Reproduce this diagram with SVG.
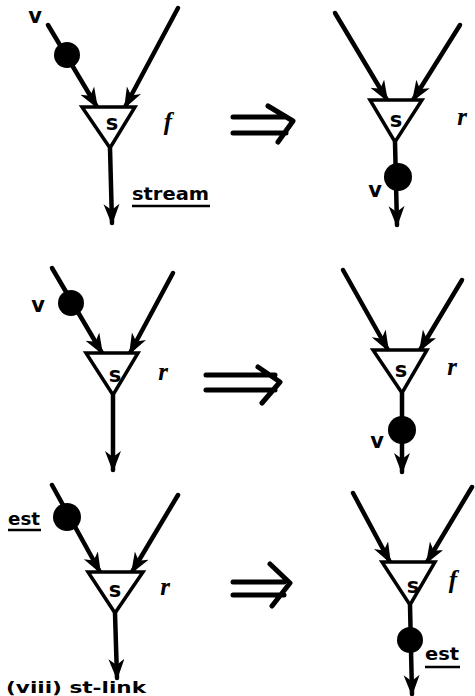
<svg xmlns="http://www.w3.org/2000/svg" width="475" height="696" viewBox="0 0 475 696">
<style>
.ln{stroke:#000;stroke-width:4.5;fill:none;stroke-linecap:round}
.tri{stroke:#000;stroke-width:3.5;fill:#fff;stroke-linejoin:miter}
.tok{fill:#000}
.s{font-family:"DejaVu Sans",sans-serif;font-weight:bold;font-size:21px;text-anchor:middle}
.v{font-family:"DejaVu Sans",sans-serif;font-weight:bold;font-size:21px;text-anchor:middle}
.it{font-family:"Liberation Serif",serif;font-style:italic;font-weight:bold;font-size:25px;text-anchor:middle}
.lb{font-family:"DejaVu Sans",sans-serif;font-weight:bold;font-size:18px}
.cap{font-family:"DejaVu Sans",sans-serif;font-weight:bold;font-size:15px}
.ul{stroke:#000;stroke-width:2.5}
.imp{stroke:#000;stroke-width:5;fill:none;stroke-linecap:round;stroke-linejoin:round}
</style>
<defs>
<marker id="ah" markerUnits="userSpaceOnUse" markerWidth="22" markerHeight="18" refX="19" refY="8" orient="auto">
<path d="M0,0 L21,8 L0,16 L6,8 z" fill="#000"/>
</marker>
</defs>
<g id="connectors">
<line class="ln" x1="48" y1="25" x2="97" y2="107" marker-end="url(#ah)"/>
<line class="ln" x1="178" y1="8" x2="125" y2="107" marker-end="url(#ah)"/>
<line class="ln" x1="110" y1="148" x2="112" y2="223" marker-end="url(#ah)"/>
<line class="ln" x1="335" y1="13" x2="387" y2="100" marker-end="url(#ah)"/>
<line class="ln" x1="460" y1="25" x2="413" y2="100" marker-end="url(#ah)"/>
<line class="ln" x1="395" y1="142" x2="397" y2="225" marker-end="url(#ah)"/>
<line class="ln" x1="52" y1="268" x2="102" y2="353" marker-end="url(#ah)"/>
<line class="ln" x1="173" y1="273" x2="130" y2="353" marker-end="url(#ah)"/>
<line class="ln" x1="113" y1="395" x2="113" y2="470" marker-end="url(#ah)"/>
<line class="ln" x1="343" y1="270" x2="388" y2="350" marker-end="url(#ah)"/>
<line class="ln" x1="462" y1="280" x2="420" y2="350" marker-end="url(#ah)"/>
<line class="ln" x1="402" y1="393" x2="402" y2="472" marker-end="url(#ah)"/>
<line class="ln" x1="52" y1="485" x2="100" y2="572" marker-end="url(#ah)"/>
<line class="ln" x1="178" y1="495" x2="132" y2="572" marker-end="url(#ah)"/>
<line class="ln" x1="115" y1="613" x2="117" y2="678" marker-end="url(#ah)"/>
<line class="ln" x1="353" y1="493" x2="390" y2="562" marker-end="url(#ah)"/>
<line class="ln" x1="472" y1="487" x2="427" y2="562" marker-end="url(#ah)"/>
<line class="ln" x1="410" y1="605" x2="412" y2="694" marker-end="url(#ah)"/>
</g>
<g id="p1-left">
<polygon class="tri" points="82,107 135,107 110,148"/>
<text class="s" x="112" y="130">s</text>
<circle class="tok" cx="67" cy="55" r="13"/>
<text class="v" x="35" y="23">v</text>
<text class="it" x="168" y="130">f</text>
<text class="lb" x="132" y="200" textLength="77" lengthAdjust="spacingAndGlyphs">stream</text>
<line class="ul" x1="132" y1="206" x2="210" y2="206"/>
</g>
<g id="impl-1">
<path class="imp" d="M233,117 H286 M233,133 H286 M268,106 L293,121 L278,142"/>
</g>
<g id="p1-right">
<polygon class="tri" points="370,100 422,100 395,142"/>
<text class="s" x="396" y="127">s</text>
<circle class="tok" cx="398" cy="177" r="14"/>
<text class="v" x="375" y="197">v</text>
<text class="it" x="462" y="125">r</text>
</g>
<g id="p2-left">
<polygon class="tri" points="86,353 138,353 113,395"/>
<text class="s" x="115" y="382">s</text>
<circle class="tok" cx="71" cy="303" r="13"/>
<text class="v" x="38" y="312">v</text>
<text class="it" x="163" y="380">r</text>
</g>
<g id="impl-2">
<path class="imp" d="M206,375 H275 M206,390 H275 M258,367 L280,382 L262,403"/>
</g>
<g id="p2-right">
<polygon class="tri" points="373,350 427,350 402,393"/>
<text class="s" x="401" y="377">s</text>
<circle class="tok" cx="402" cy="430" r="14"/>
<text class="v" x="377" y="448">v</text>
<text class="it" x="452" y="375">r</text>
</g>
<g id="p3-left">
<polygon class="tri" points="88,572 143,572 115,613"/>
<text class="s" x="115" y="597">s</text>
<circle class="tok" cx="67" cy="517" r="14"/>
<text class="lb" x="8" y="525" textLength="32" lengthAdjust="spacingAndGlyphs">est</text>
<line class="ul" x1="8" y1="530" x2="41" y2="530"/>
<text class="it" x="165" y="595">r</text>
</g>
<g id="impl-3">
<path class="imp" d="M233,582 H284 M233,595 H284 M270,564 L290,583 L272,606"/>
</g>
<g id="p3-right">
<polygon class="tri" points="382,562 435,562 410,605"/>
<text class="s" x="413" y="593">s</text>
<circle class="tok" cx="410" cy="640" r="13"/>
<text class="lb" x="425" y="660" textLength="34" lengthAdjust="spacingAndGlyphs">est</text>
<line class="ul" x1="425" y1="667" x2="460" y2="667"/>
<text class="it" x="453" y="588">f</text>
</g>
<g id="caption">
<text class="cap" x="6" y="693" textLength="140" lengthAdjust="spacingAndGlyphs">(viii) st-link</text>
</g>
</svg>
